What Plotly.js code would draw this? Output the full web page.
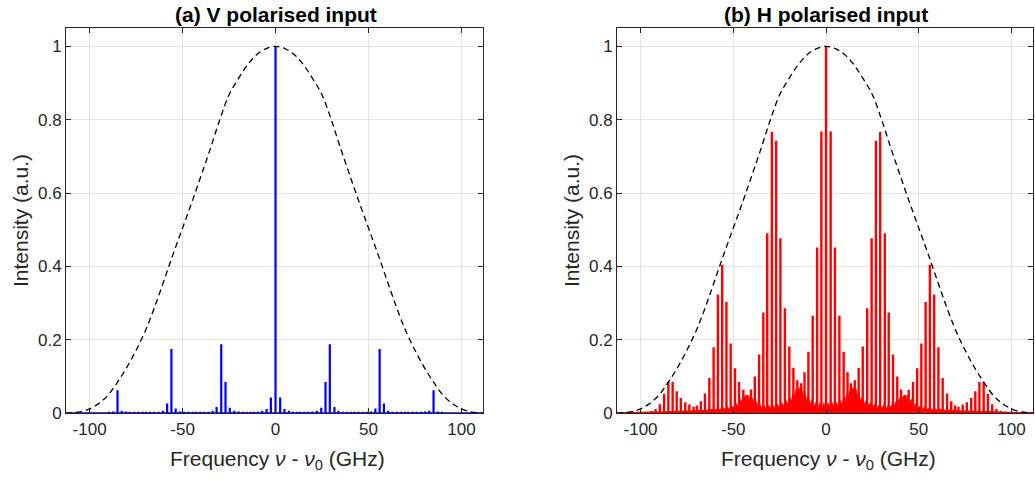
<!DOCTYPE html>
<html>
<head>
<meta charset="utf-8">
<script src="https://cdn.plot.ly/plotly-3.0.1.min.js"></script>
<style>html,body{margin:0;padding:0;background:#fff;}#chart{width:1035px;height:479px;}</style>
</head>
<body>
<div id="chart"></div>
<script>
// Comb line frequencies (GHz, relative to nu_0)
const lineFreq = [-110.4,-108.1,-105.8,-103.5,-101.2,-98.8,-96.5,-94.2,-91.9,-89.6,-87.3,-85.0,-82.7,-80.5,-78.3,-75.9,-73.7,-71.4,-69.6,-67.5,-65.3,-62.9,-60.6,-58.3,-56.0,-53.7,-51.4,-49.1,-46.9,-44.6,-42.6,-40.5,-38.4,-36.1,-33.8,-31.7,-29.2,-26.9,-24.6,-22.2,-19.8,-17.6,-15.5,-13.4,-11.6,-9.5,-7.2,-4.8,-2.5,0,2.5,4.8,7.2,9.5,11.6,13.4,15.5,17.6,19.8,22.2,24.6,26.9,29.2,31.7,33.8,36.1,38.4,40.5,42.6,44.6,46.9,49.1,51.4,53.7,56.0,58.3,60.6,62.9,65.3,67.5,69.6,71.4,73.7,75.9,78.3,80.5,82.7,85.0,87.3,89.6,91.9,94.2,96.5,98.8,101.2,103.5,105.8,108.1,110.4];

// (a) V polarised input: line intensities
const vIntensity = [0.002,0.002,0.002,0.002,0.002,0.002,0.002,0.003,0.003,0.004,0.005,0.063,0.007,0.005,0.004,0.004,0.004,0.004,0.004,0.004,0.004,0.004,0.007,0.027,0.175,0.013,0.005,0.004,0.004,0.004,0.004,0.004,0.004,0.004,0.007,0.017,0.188,0.085,0.015,0.007,0.005,0.004,0.004,0.004,0.004,0.004,0.007,0.012,0.043,
  1.0,
  0.043,0.012,0.007,0.004,0.004,0.004,0.004,0.004,0.005,0.007,0.015,0.085,0.188,0.017,0.007,0.004,0.004,0.004,0.004,0.004,0.004,0.004,0.005,0.013,0.175,0.027,0.007,0.004,0.004,0.004,0.004,0.004,0.004,0.004,0.004,0.005,0.007,0.063,0.005,0.004,0.003,0.003,0.002,0.002,0.002,0.002,0.002,0.002,0.002];

// (b) H polarised input: line intensities
const hIntensity = [0.002,0.002,0.002,0.003,0.003,0.003,0.004,0.006,0.012,0.025,0.053,0.085,0.085,0.060,0.042,0.030,0.024,0.018,0.021,0.033,0.054,0.096,0.180,0.324,0.405,0.303,0.190,0.123,0.085,0.064,0.050,0.065,0.100,0.160,0.275,0.491,0.767,0.743,0.477,0.286,0.182,0.124,0.090,0.082,0.112,0.168,0.266,0.452,0.768,
  1.0,
  0.768,0.452,0.266,0.168,0.112,0.082,0.090,0.124,0.182,0.286,0.477,0.743,0.767,0.491,0.275,0.160,0.100,0.065,0.050,0.064,0.085,0.123,0.190,0.303,0.405,0.324,0.180,0.096,0.054,0.033,0.021,0.018,0.024,0.030,0.042,0.060,0.085,0.085,0.053,0.025,0.012,0.006,0.004,0.003,0.003,0.003,0.002,0.002,0.002];

// (b) dense low-level background under the H spectrum
const hBgFreq = [-111.6,-105,-100,-95,-90,-85,-80,-75,-70,-66,-64,-62,-60,-58,-57.4,-55.5,-54.8,-53,-52.4,-50.6,-50,-48.4,-47.6,-46,-45.3,-43.8,-43.1,-41.7,-40.9,-39.6,-39,-37.6,-36.9,-35.5,-34.8,-33.2,-32.6,-31,-30.3,-28.5,-27.8,-26.2,-25.4,-23.8,-23,-21.4,-20.6,-19.4,-18.6,-17.8,-16.9,-16.2,-15.2,-14.5,-13.8,-12.8,-12,-11.2,-10.4,-9.8,-8.4,-7.6,-6.2,-5.3,-4,-3.2,-2,-1.2,-0.6,
  0,
  0.6,1.2,2,3.2,4,5.3,6.2,7.6,8.4,9.8,10.4,11.2,12,12.8,13.8,14.5,15.2,16.2,16.9,17.8,18.6,19.4,20.6,21.4,23,23.8,25.4,26.2,27.8,28.5,30.3,31,32.6,33.2,34.8,35.5,36.9,37.6,39,39.6,40.9,41.7,43.1,43.8,45.3,46,47.6,48.4,50,50.6,52.4,53,54.8,55.5,57.4,58,60,62,64,66,70,75,80,85,90,95,100,105,111.6];
const hBgLevel = [0.002,0.002,0.003,0.003,0.004,0.005,0.006,0.006,0.007,0.009,0.008,0.011,0.009,0.013,0.010,0.015,0.011,0.017,0.012,0.020,0.015,0.027,0.020,0.038,0.030,0.050,0.036,0.048,0.034,0.042,0.028,0.032,0.022,0.024,0.016,0.020,0.014,0.022,0.015,0.022,0.015,0.025,0.017,0.028,0.020,0.034,0.024,0.042,0.034,0.055,0.046,0.066,0.058,0.070,0.050,0.062,0.044,0.052,0.034,0.045,0.026,0.036,0.020,0.032,0.018,0.030,0.016,0.028,0.020,
  0.030,
  0.020,0.028,0.016,0.030,0.018,0.032,0.020,0.036,0.026,0.045,0.034,0.052,0.044,0.062,0.050,0.070,0.058,0.066,0.046,0.055,0.034,0.042,0.024,0.034,0.020,0.028,0.017,0.025,0.015,0.022,0.015,0.022,0.014,0.020,0.016,0.024,0.022,0.032,0.028,0.042,0.034,0.048,0.036,0.050,0.030,0.038,0.020,0.027,0.015,0.020,0.012,0.017,0.011,0.015,0.010,0.013,0.009,0.011,0.008,0.009,0.007,0.006,0.006,0.005,0.004,0.003,0.003,0.002,0.002];

// Dashed envelope (same in both panels)
const envFreq = [-112.7,-110,-105,-100,-95,-90,-85,-80,-75,-70,-65,-60,-55,-50,-45,-40,-35,-30,-25,-20,-15,-10,-5,0,5,10,15,20,25,30,35,40,45,50,55,60,65,70,75,80,85,90,95,100,105,110,111.6];
const envLevel = [0,0.001,0.004,0.012,0.027,0.05,0.085,0.125,0.172,0.225,0.29,0.362,0.435,0.505,0.575,0.648,0.722,0.80,0.868,0.912,0.95,0.978,0.994,1.0,0.994,0.978,0.95,0.912,0.868,0.80,0.722,0.648,0.575,0.505,0.435,0.362,0.29,0.225,0.172,0.125,0.085,0.05,0.027,0.012,0.004,0.001,0.0];

const xTicks = [-100,-50,0,50,100];
const xTickText = ['-100','-50','0','50','100'];
const yTicks = [0,0.2,0.4,0.6,0.8,1];
const yTickText = ['0','0.2','0.4','0.6','0.8','1'];
const panelTitles = ['<b>(a) V polarised input</b>','<b>(b) H polarised input</b>'];
const xLabel = 'Frequency <i>ν</i> - <i>ν</i><sub>0</sub> (GHz)';
const yLabel = 'Intensity (a.u.)';

const xRange = [-112.7, 111.6];

function stemPath(freqs, vals, x0, x1) {
  const xs = [x0], ys = [0];
  for (let i = 0; i < freqs.length; i++) {
    xs.push(freqs[i], freqs[i], freqs[i]);
    ys.push(0, vals[i], 0);
  }
  xs.push(x1); ys.push(0);
  return {xs, ys};
}

const vPath = stemPath(lineFreq, vIntensity, xRange[0], xRange[1]);
const hPath = stemPath(lineFreq, hIntensity, xRange[0], xRange[1]);

const traces = [
  {x: vPath.xs, y: vPath.ys, type: 'scatter', mode: 'lines', line: {color: '#0000ff', width: 2.2}, xaxis: 'x', yaxis: 'y', hoverinfo: 'skip'},
  {x: envFreq, y: envLevel, type: 'scatter', mode: 'lines', line: {color: '#000000', width: 1.3, dash: '6px,4px', shape: 'spline'}, xaxis: 'x', yaxis: 'y', hoverinfo: 'skip'},
  {x: hBgFreq, y: hBgLevel, type: 'scatter', mode: 'lines', fill: 'tozeroy', fillcolor: '#ff0000', line: {color: '#ff0000', width: 0.8}, xaxis: 'x2', yaxis: 'y2', hoverinfo: 'skip'},
  {x: hPath.xs, y: hPath.ys, type: 'scatter', mode: 'lines', line: {color: '#ff0000', width: 2.4}, xaxis: 'x2', yaxis: 'y2', hoverinfo: 'skip'},
  {x: envFreq, y: envLevel, type: 'scatter', mode: 'lines', line: {color: '#000000', width: 1.3, dash: '6px,4px', shape: 'spline'}, xaxis: 'x2', yaxis: 'y2', hoverinfo: 'skip'}
];

const axCol = '#262626';
function xAxis(domain, anchor) {
  return {domain, anchor, range: xRange, tickmode: 'array', tickvals: xTicks, ticktext: xTickText,
    ticks: 'inside', ticklen: 5, tickwidth: 1, tickcolor: axCol, showline: true, linecolor: axCol, linewidth: 1,
    mirror: 'allticks', showgrid: true, gridcolor: '#e4e4e4', gridwidth: 1, zeroline: false,
    tickfont: {size: 17, color: axCol}, automargin: false, fixedrange: true};
}
function yAxis(domain, anchor) {
  return {domain, anchor, range: [0, 1.05], tickmode: 'array', tickvals: yTicks, ticktext: yTickText,
    ticks: 'inside', ticklen: 5, tickwidth: 1, tickcolor: axCol, showline: true, linecolor: axCol, linewidth: 1,
    mirror: 'allticks', showgrid: true, gridcolor: '#e4e4e4', gridwidth: 1, zeroline: false,
    tickfont: {size: 17, color: axCol}, automargin: false, fixedrange: true};
}

const W = 1035, H = 479;
const yDom = [1 - 413.3 / H, 1 - 28 / H];
const layout = {
  width: W, height: H,
  margin: {l: 0, r: 0, t: 0, b: 0},
  paper_bgcolor: '#ffffff', plot_bgcolor: '#ffffff',
  showlegend: false,
  font: {family: 'Liberation Sans, Arial, sans-serif', color: axCol},
  xaxis: xAxis([66 / W, 483 / W], 'y'),
  yaxis: yAxis(yDom, 'x'),
  xaxis2: xAxis([617 / W, 1033 / W], 'y2'),
  yaxis2: yAxis(yDom, 'x2'),
  annotations: [
    {text: panelTitles[0], xref: 'paper', yref: 'paper', x: 276 / W, y: 1 - 15 / H, xanchor: 'center', yanchor: 'middle', showarrow: false, font: {size: 21, color: '#000'}},
    {text: panelTitles[1], xref: 'paper', yref: 'paper', x: 826 / W, y: 1 - 15 / H, xanchor: 'center', yanchor: 'middle', showarrow: false, font: {size: 21, color: '#000'}},
    {text: xLabel, xref: 'paper', yref: 'paper', x: 277 / W, y: 1 - 460 / H, xanchor: 'center', yanchor: 'middle', showarrow: false, font: {size: 21, color: axCol}},
    {text: xLabel, xref: 'paper', yref: 'paper', x: 828 / W, y: 1 - 460 / H, xanchor: 'center', yanchor: 'middle', showarrow: false, font: {size: 21, color: axCol}},
    {text: yLabel, xref: 'paper', yref: 'paper', x: 20 / W, y: 1 - 221 / H, xanchor: 'center', yanchor: 'middle', textangle: -90, showarrow: false, font: {size: 21, color: axCol}},
    {text: yLabel, xref: 'paper', yref: 'paper', x: 571 / W, y: 1 - 221 / H, xanchor: 'center', yanchor: 'middle', textangle: -90, showarrow: false, font: {size: 21, color: axCol}}
  ]
};

Plotly.newPlot('chart', traces, layout, {displayModeBar: false, staticPlot: true});
</script>
</body>
</html>
